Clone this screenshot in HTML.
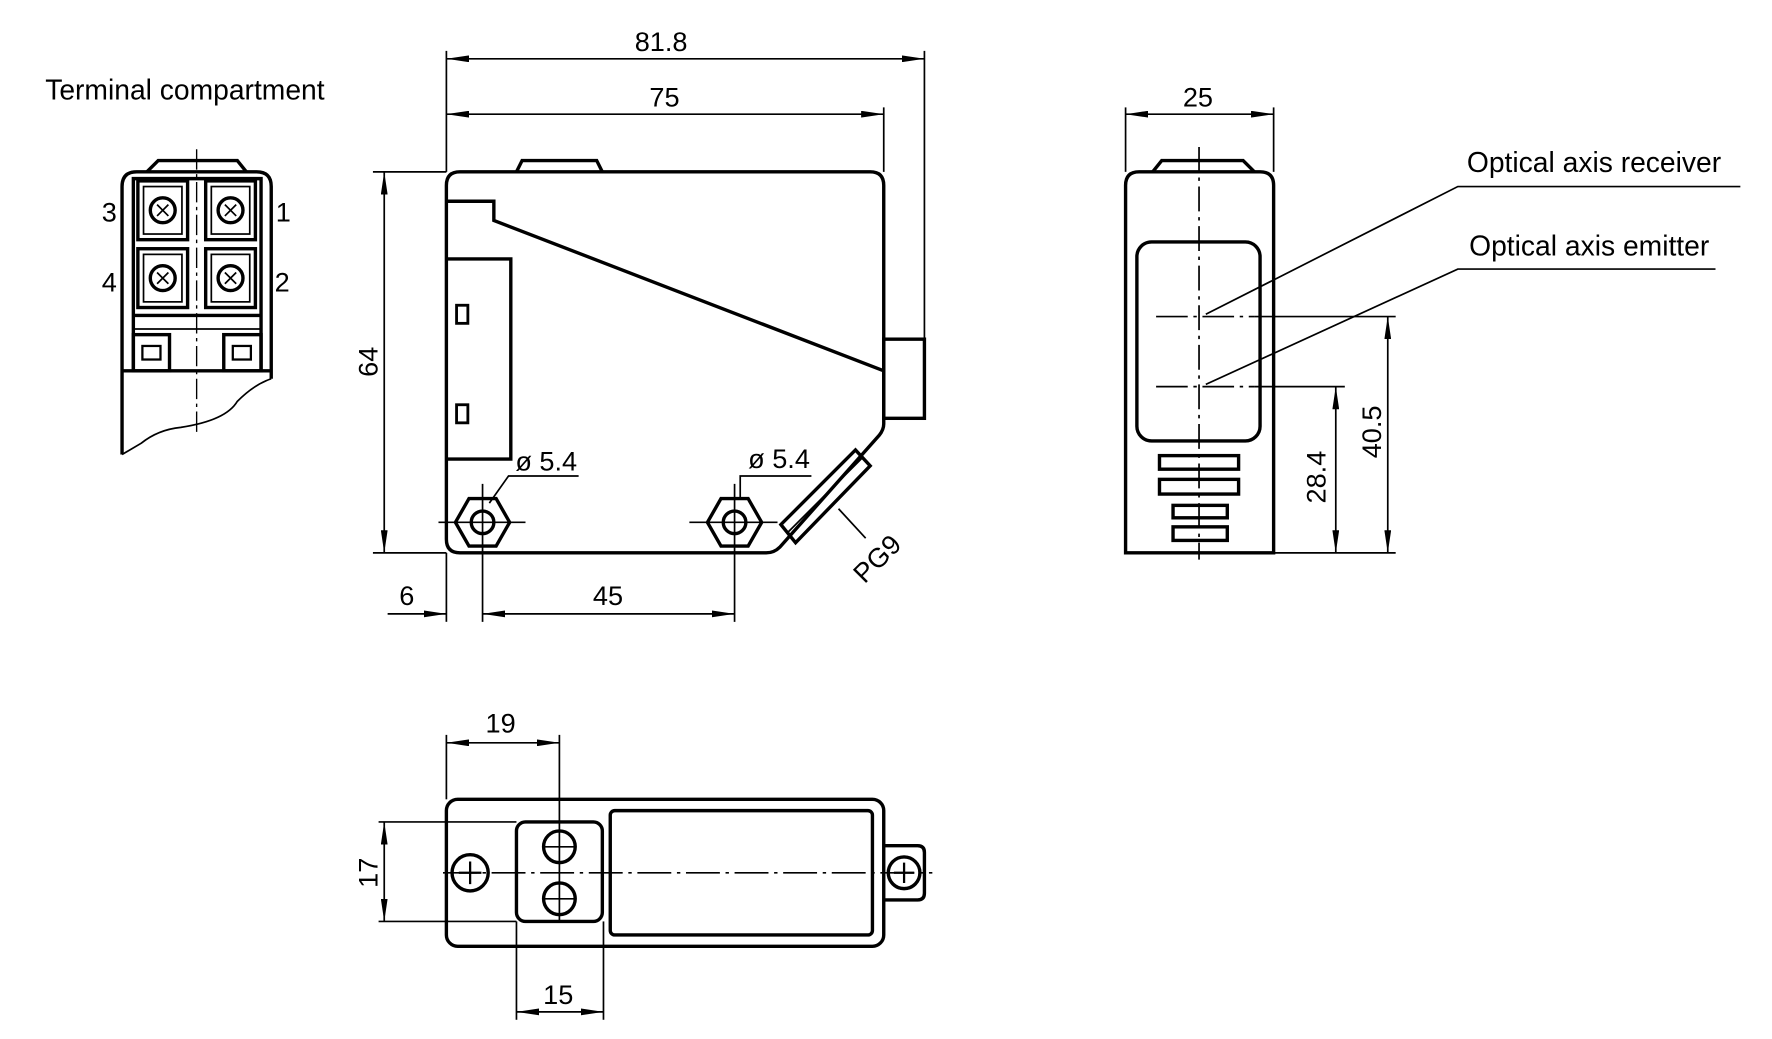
<!DOCTYPE html>
<html><head><meta charset="utf-8"><style>
html,body{margin:0;padding:0;background:#fff;}
svg{display:block;}
text{font-family:"Liberation Sans",sans-serif;fill:#000;}
</style></head><body>
<svg width="1772" height="1039" viewBox="0 0 1568 919" preserveAspectRatio="none" xmlns="http://www.w3.org/2000/svg">
<defs>
<marker id="a" viewBox="0 0 20 6" refX="20" refY="3" markerWidth="20" markerHeight="6" markerUnits="userSpaceOnUse" orient="auto-start-reverse"><path d="M0,0 L20,3 L0,6 z" fill="#000"/></marker>
</defs>
<g fill="none" stroke="#000">
<g stroke-width="3">
<path d="M108,402 L108,165 Q108,152 121,152 L227,152 Q240,152 240,165 L240,335"/>
<path d="M130,152 L140,142 L210,142 L218,152"/>
<path d="M118,328 L118,158 L231,158 L231,328"/>
<rect x="122" y="160" width="44" height="52"/><rect x="182" y="160" width="44" height="52"/>
<rect x="122" y="220" width="44" height="52"/><rect x="182" y="220" width="44" height="52"/>
<circle cx="144" cy="186" r="11"/><circle cx="204" cy="186" r="11"/>
<circle cx="144" cy="246" r="11"/><circle cx="204" cy="246" r="11"/>
<line x1="118" y1="279" x2="231" y2="279"/>
<rect x="118" y="296" width="32" height="32"/><rect x="198" y="296" width="33" height="32"/>
<rect x="126" y="306" width="16" height="12" stroke-width="2"/><rect x="206" y="306" width="16" height="12" stroke-width="2"/>
<line x1="108" y1="328" x2="240" y2="328"/>
</g>
<g stroke-width="1.5">
<rect x="127" y="165" width="34" height="42"/><rect x="187" y="165" width="34" height="42"/>
<rect x="127" y="225" width="34" height="42"/><rect x="187" y="225" width="34" height="42"/>
<path d="M139,181 L149,191 M149,181 L139,191 M199,181 L209,191 M209,181 L199,191 M139,241 L149,251 M149,241 L139,251 M199,241 L209,251 M209,241 L199,251"/>
<line x1="118" y1="291" x2="231" y2="291"/>
<path d="M108,402 L125,392 Q140,380 160,378 Q200,372 210,355 Q225,340 240,335"/>
<line x1="174" y1="132" x2="174" y2="382" stroke-dasharray="18,4,3,4" stroke-width="1.2"/>
</g>
<g stroke-width="3">
<path d="M407,152 L770,152 Q782,152 782,164 L782,375 Q782,380 778,385 L690,484 Q685,489 678,489 L407,489 Q395,489 395,477 L395,164 Q395,152 407,152 Z"/>
<path d="M457,152 L462,142 L528,142 L533,152"/>
<rect x="782" y="300" width="36" height="70"/>
<path d="M395,178 L437,178 L437,195 L782,328"/>
<path d="M395,229 L452,229 L452,406 L395,406"/>
<rect x="404" y="270" width="10" height="16" stroke-width="2.5"/>
<rect x="404" y="358" width="10" height="16" stroke-width="2.5"/>
<polygon points="403,462 415,441 439,441 451,462 439,483 415,483"/>
<circle cx="427" cy="462" r="10"/>
<polygon points="626,462 638,441 662,441 674,462 662,483 638,483"/>
<circle cx="650" cy="462" r="10"/>
<path d="M691,464 L757,398 L770,412 L704,480 Z"/>
</g>
<g stroke-width="1.5">
<line x1="697" y1="471" x2="763" y2="405"/>
<line x1="388" y1="462" x2="465" y2="462"/>
<line x1="610" y1="462" x2="688" y2="462"/>
<line x1="427" y1="428" x2="427" y2="550"/>
<line x1="650" y1="428" x2="650" y2="550"/>
<path d="M433,445 L450,421 L512,421"/>
<path d="M655,440 L655,421 L718,421"/>
<path d="M742,450 L766,476"/>
<line x1="395" y1="45" x2="395" y2="152"/><line x1="818" y1="45" x2="818" y2="300"/>
<line x1="395" y1="52" x2="818" y2="52" marker-start="url(#a)" marker-end="url(#a)"/>
<line x1="782" y1="95" x2="782" y2="152"/>
<line x1="395" y1="101" x2="782" y2="101" marker-start="url(#a)" marker-end="url(#a)"/>
<line x1="330" y1="152" x2="395" y2="152"/><line x1="330" y1="489" x2="395" y2="489"/>
<line x1="340" y1="152" x2="340" y2="489" marker-start="url(#a)" marker-end="url(#a)"/>
<line x1="395" y1="489" x2="395" y2="550"/>
<line x1="343" y1="543" x2="395" y2="543" marker-end="url(#a)"/>
<line x1="427" y1="543" x2="650" y2="543" marker-start="url(#a)" marker-end="url(#a)"/>
</g>
<g stroke-width="3">
<path d="M996,489 L996,164 Q996,152 1008,152 L1115,152 Q1127,152 1127,164 L1127,489 Z"/>
<path d="M1020,152 L1028,142 L1100,142 L1110,152"/>
<rect x="1006" y="214" width="109" height="176" rx="13"/>
<rect x="1026" y="403" width="70" height="12"/><rect x="1026" y="424" width="70" height="13"/>
<rect x="1038" y="447" width="48" height="11"/><rect x="1038" y="466" width="48" height="12"/>
</g>
<g stroke-width="1.5">
<line x1="1061" y1="130" x2="1061" y2="495" stroke-dasharray="22,5,3,5"/>
<line x1="1023" y1="280" x2="1110" y2="280" stroke-dasharray="28,5,3,5"/>
<line x1="1110" y1="280" x2="1235" y2="280"/>
<line x1="1023" y1="342" x2="1110" y2="342" stroke-dasharray="28,5,3,5"/>
<line x1="1110" y1="342" x2="1190" y2="342"/>
<line x1="1127" y1="489" x2="1235" y2="489"/>
<line x1="1228" y1="280" x2="1228" y2="489" marker-start="url(#a)" marker-end="url(#a)"/>
<line x1="1182" y1="342" x2="1182" y2="489" marker-start="url(#a)" marker-end="url(#a)"/>
<line x1="996" y1="95" x2="996" y2="152"/><line x1="1127" y1="95" x2="1127" y2="152"/>
<line x1="996" y1="101" x2="1127" y2="101" marker-start="url(#a)" marker-end="url(#a)"/>
<path d="M1067,278 L1290,165 L1540,165"/>
<path d="M1067,340 L1290,238 L1518,238"/>
</g>
<g stroke-width="3">
<rect x="395" y="707" width="387" height="130" rx="10"/>
<rect x="540" y="717" width="232" height="110" rx="4"/>
<rect x="457" y="727" width="76" height="88" rx="8"/>
<circle cx="495" cy="749" r="14"/><circle cx="495" cy="795" r="14"/>
<circle cx="416" cy="772" r="16"/>
<path d="M782,748 L812,748 Q818,748 818,754 L818,790 Q818,796 812,796 L782,796"/>
<circle cx="800" cy="772" r="14"/>
</g>
<g stroke-width="2">
<path d="M416,762 L416,782 M406,772 L426,772"/>
<path d="M800,763 L800,781 M791,772 L809,772"/>
</g>
<g stroke-width="1.5">
<line x1="392" y1="772" x2="825" y2="772" stroke-dasharray="30,5,3,5"/>
<line x1="495" y1="650" x2="495" y2="815"/>
<line x1="480" y1="749" x2="510" y2="749"/><line x1="480" y1="795" x2="510" y2="795"/>
<line x1="395" y1="650" x2="395" y2="707"/>
<line x1="395" y1="657" x2="495" y2="657" marker-start="url(#a)" marker-end="url(#a)"/>
<line x1="335" y1="727" x2="457" y2="727"/><line x1="335" y1="815" x2="457" y2="815"/>
<line x1="340" y1="727" x2="340" y2="815" marker-start="url(#a)" marker-end="url(#a)"/>
<line x1="457" y1="815" x2="457" y2="902"/><line x1="534" y1="815" x2="534" y2="902"/>
<line x1="457" y1="895" x2="534" y2="895" marker-start="url(#a)" marker-end="url(#a)"/>
</g>
</g>
<g font-size="24">
<text x="40" y="88" font-size="25">Terminal compartment</text>
<text x="90" y="196">3</text><text x="244" y="196">1</text>
<text x="90" y="258">4</text><text x="243" y="258">2</text>
<text x="585" y="45" text-anchor="middle">81.8</text>
<text x="588" y="94" text-anchor="middle">75</text>
<text x="334" y="320" text-anchor="middle" transform="rotate(-90 334 320)">64</text>
<text x="360" y="535" text-anchor="middle">6</text>
<text x="538" y="535" text-anchor="middle">45</text>
<text x="456" y="416">ø 5.4</text>
<text x="662" y="414">ø 5.4</text>
<text x="782" y="500" text-anchor="middle" transform="rotate(-45 782 500)">PG9</text>
<text x="1060" y="94" text-anchor="middle">25</text>
<text x="1222" y="382" text-anchor="middle" transform="rotate(-90 1222 382)">40.5</text>
<text x="1173" y="422" text-anchor="middle" transform="rotate(-90 1173 422)">28.4</text>
<text x="1298" y="152" font-size="25">Optical axis receiver</text>
<text x="1300" y="226" font-size="25">Optical axis emitter</text>
<text x="443" y="648" text-anchor="middle">19</text>
<text x="334" y="772" text-anchor="middle" transform="rotate(-90 334 772)">17</text>
<text x="494" y="888" text-anchor="middle">15</text>
</g>
</svg>
</body></html>
